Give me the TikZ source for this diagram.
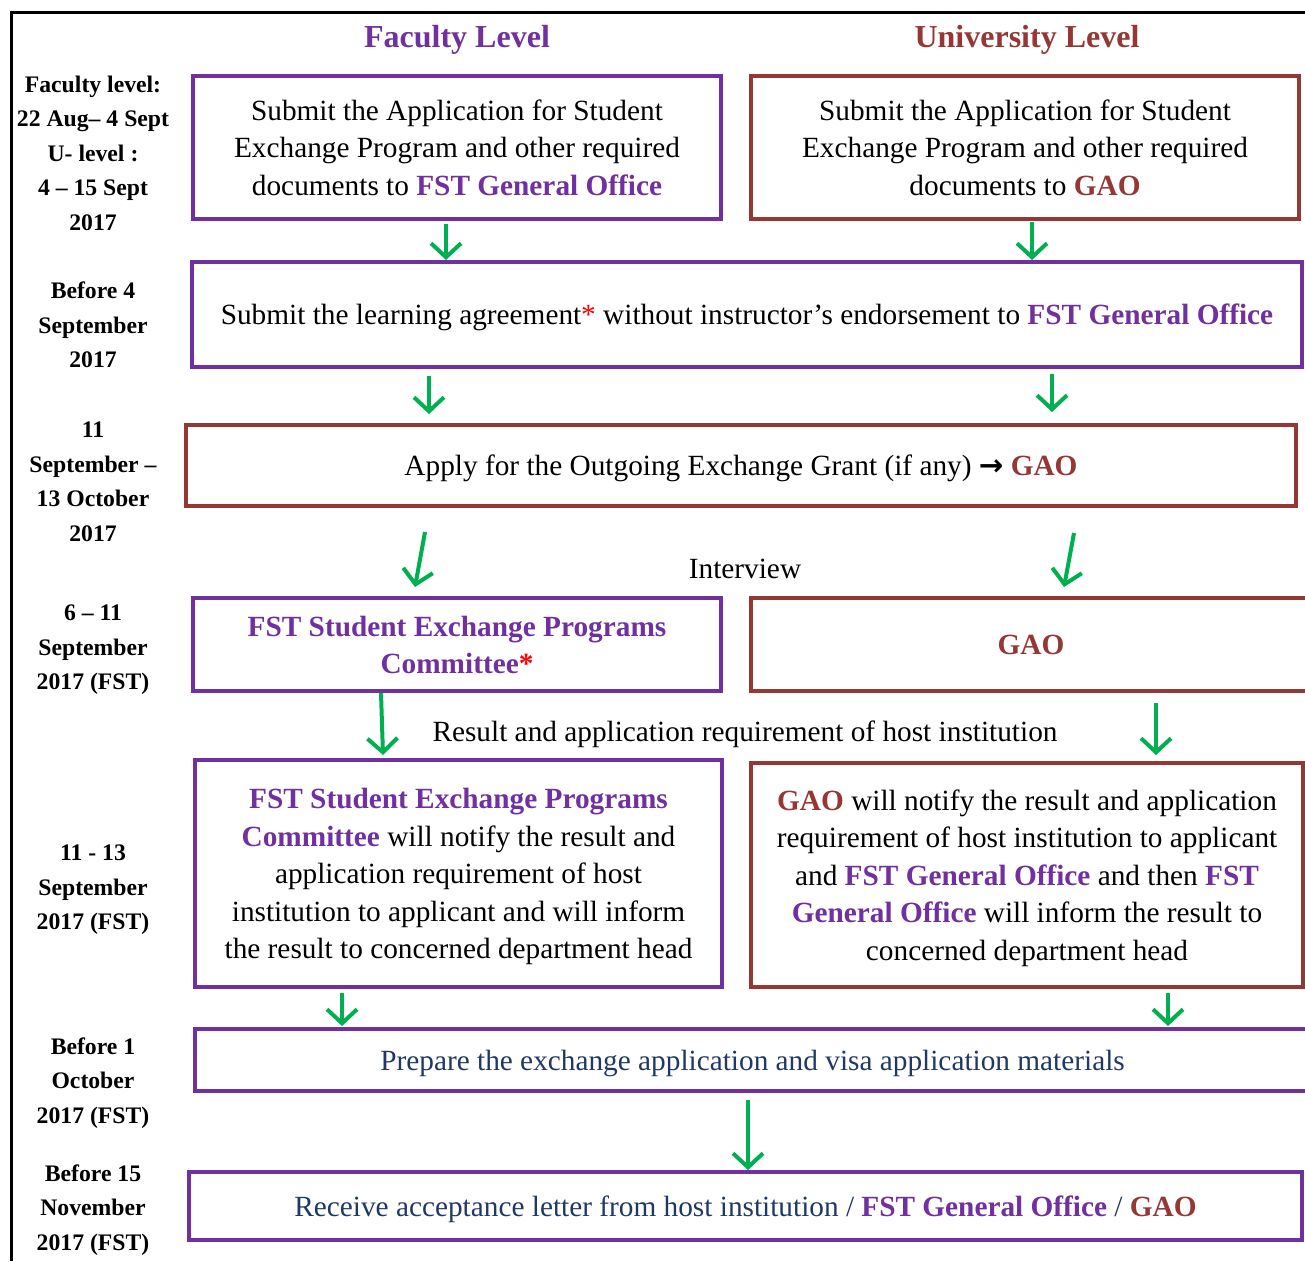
\documentclass[tikz,border=0pt]{standalone}
\usepackage{fontspec}
\setmainfont{Liberation Serif}
\newfontfamily\symfont{DejaVu Sans}
\usetikzlibrary{arrows.meta}
\definecolor{fstpurple}{HTML}{7030A0}
\definecolor{gaored}{HTML}{953735}
\definecolor{arrowgreen}{HTML}{00B050}
\definecolor{textnavy}{HTML}{1F3864}
\newcommand{\fgo}{\textcolor{fstpurple}{\textbf{FST General Office}}}
\newcommand{\gao}{\textcolor{gaored}{\textbf{GAO}}}
\newcommand{\redstar}{\textcolor{red}{*}}
\tikzset{
  fbox/.style={draw=fstpurple, line width=4pt, align=center, inner sep=0pt,
    text depth=0pt, font=\fontsize{29.3}{37.5}\selectfont},
  ubox/.style={fbox, draw=gaored},
  datelbl/.style={align=center, font=\fontsize{23.7}{34.5}\selectfont\bfseries},
  levelhead/.style={font=\fontsize{32}{36}\selectfont\bfseries},
  plaintxt/.style={font=\fontsize{29.3}{37.5}\selectfont},
  garrow/.style={draw=arrowgreen, line width=4pt,
    -{Straight Barb[length=14pt,width=30pt]}}
}
\begin{document}
\begin{tikzpicture}[x=1pt,y=-1pt]
                    \clip (0,0) rectangle (1305,1261);
                    \draw[line width=3pt] (11,1261) -- (11,12) -- (1305,12);
                    % column heads
                    \node[levelhead, text=fstpurple] (fachead) at (457,40) {Faculty Level};
                    \node[levelhead, text=gaored] (unihead) at (1027,40) {University Level};
                    % dates
                    \node[datelbl] (date1) at (93,153) {Faculty level:\\22 Aug-- 4 Sept\\U- level :\\4 -- 15 Sept\\2017};
                    \node[datelbl] (date2) at (93,325) {Before 4\\September\\2017};
                    \node[datelbl] (date3) at (93,482) {11\\September --\\13 October\\2017};
                    \node[datelbl] (date4) at (93,650) {6 -- 11\\September\\2017 (FST)};
                    \node[datelbl] (date5) at (93,890) {11 - 13\\September\\2017 (FST)};
                    \node[datelbl] (date6) at (93,1083) {Before 1\\October\\2017 (FST)};
                    \node[datelbl] (date7) at (93,1210) {Before 15\\November\\2017 (FST)};
                    % boxes
                    \node[fbox, minimum width=528, minimum height=143] (facsubmit) at (457,147.5)
                      {Submit the Application for Student\\Exchange Program and other required\\documents to \fgo};
                    \node[ubox, minimum width=548, minimum height=143] (unisubmit) at (1025,147.5)
                      {Submit the Application for Student\\Exchange Program and other required\\documents to \gao};
                    \node[fbox, minimum width=1110, minimum height=105] (agreement) at (747,314.5)
                      {Submit the learning agreement\redstar{} without instructor’s endorsement to \fgo};
                    \node[ubox, minimum width=1110, minimum height=81] (grant) at (741,465.5)
                      {Apply for the Outgoing Exchange Grant (if any) {\symfont\bfseries →} \gao};
                    \node[plaintxt] (interview) at (745,569) {Interview};
                    \node[fbox, minimum width=528, minimum height=93, text=fstpurple,
                      font=\fontsize{29.3}{37}\selectfont\bfseries] (faccommittee) at (457,644.5)
                      {FST Student Exchange Programs\\Committee\redstar};
                    \node[ubox, minimum width=560, minimum height=93] (unigao) at (1031,644.5) {\gao};
                    \node[plaintxt] (result) at (745,734) {Result and application requirement of host institution};
                    \node[fbox, minimum width=527, minimum height=227] (facnotify) at (458.5,873.5)
                      {\textcolor{fstpurple}{\textbf{FST Student Exchange Programs}}\\
                       \textcolor{fstpurple}{\textbf{Committee}} will notify the result and\\
                       application requirement of host\\
                       institution to applicant and will inform\\
                       the result to concerned department head};
                    \node[ubox, minimum width=552, minimum height=224] (uninotify) at (1027,875)
                      {\gao{} will notify the result and application\\
                       requirement of host institution to applicant\\
                       and \fgo{} and then \textcolor{fstpurple}{\textbf{FST}}\\
                       \textcolor{fstpurple}{\textbf{General Office}} will inform the result to\\
                       concerned department head};
                    \node[fbox, minimum width=1115, minimum height=62, text=textnavy] (prepare) at (752.5,1060)
                      {Prepare the exchange application and visa application materials};
                    \node[fbox, minimum width=1113, minimum height=68, text=textnavy] (receive) at (745.5,1206)
                      {Receive acceptance letter from host institution / \fgo{} / \gao};
                    % arrows
                    \coordinate (f1) at (446,224);
                    \coordinate (u1) at (1032,222);
                    \draw[garrow] (f1) -- (f1 |- agreement.north);
                    \draw[garrow] (u1) -- (u1 |- agreement.north);
                    \coordinate (f2) at (429,376);
                    \coordinate (u2) at (1052,374);
                    \draw[garrow] (f2) -- ++(0,38);
                    \draw[garrow] (u2) -- ++(0,38);
                    \coordinate (f3) at (425,532);
                    \coordinate (u3) at (1074,533);
                    \draw[garrow] (f3) -- ++(-10,55);
                    \draw[garrow] (u3) -- ++(-10,54);
                    \coordinate (f4) at (381,693);
                    \coordinate (u4) at (1156,703);
                    \draw[garrow] (f4) -- ++(2,62);
                    \draw[garrow] (u4) -- ++(0,52);
                    \coordinate (f5) at (342,993);
                    \coordinate (u5) at (1168,993);
                    \draw[garrow] (f5) -- ++(0,33);
                    \draw[garrow] (u5) -- ++(0,33);
                    \coordinate (m6) at (748,1100);
                    \draw[garrow] (m6) -- (m6 |- receive.north);
                  \end{tikzpicture}
\end{document}
